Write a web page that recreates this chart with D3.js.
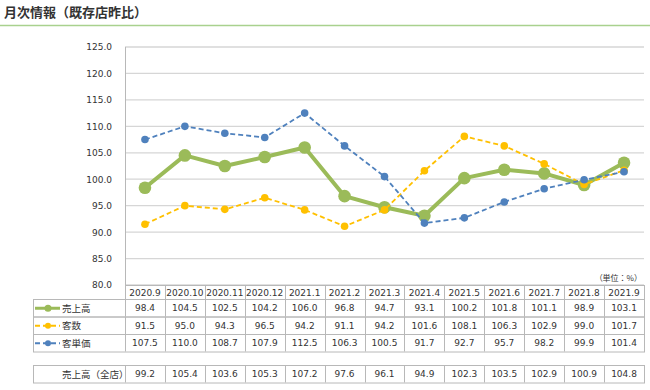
<!DOCTYPE html>
<html>
<head>
<meta charset="utf-8">
<script src="https://cdn.jsdelivr.net/npm/d3@7"></script>
<style>
  body { margin: 0; background: #fff; }
  svg text { font-family: "Noto Sans CJK JP", "DejaVu Sans", sans-serif; fill: #333; }
</style>
</head>
<body>
<svg id="chart" width="650" height="390"></svg>
<script>
const months = ["2020.9","2020.10","2020.11","2020.12","2021.1","2021.2","2021.3","2021.4","2021.5","2021.6","2021.7","2021.8","2021.9"]
const sales = [98.4,104.5,102.5,104.2,106.0,96.8,94.7,93.1,100.2,101.8,101.1,98.9,103.1]
const customers = [91.5,95.0,94.3,96.5,94.2,91.1,94.2,101.6,108.1,106.3,102.9,99.0,101.7]
const unitPrice = [107.5,110.0,108.7,107.9,112.5,106.3,100.5,91.7,92.7,95.7,98.2,99.9,101.4]
const salesAll = [99.2,105.4,103.6,105.3,107.2,97.6,96.1,94.9,102.3,103.5,102.9,100.9,104.8]
const yTicks = [80,85,90,95,100,105,110,115,120,125]

const series = [
    { name: "売上高", values: sales, color: "#9bbb59", width: 4, r: 6.3, dash: null },
    { name: "客数", values: customers, color: "#ffc000", width: 1.8, r: 3.8, dash: "5,3" },
    { name: "客単価", values: unitPrice, color: "#4f81bd", width: 1.8, r: 3.8, dash: "5,3" }
]

let svg = d3.select("#chart")
let plotLeft = 125, plotRight = 644, plotTop = 47, plotBottom = 285
let gridColor = "#d6d6d6", cellColor = "#b8b8b8"

// title
svg.append("text")
    .attr("x", 4).attr("y", 17)
    .attr("font-size", 13).attr("font-weight", "bold")
    .text("月次情報（既存店昨比）")
svg.append("line")
    .attr("x1", 0).attr("x2", 650).attr("y1", 25.5).attr("y2", 25.5)
    .attr("stroke", "#a9d18e").attr("stroke-width", 1.5)

let x = d3.scaleBand().domain(months).range([plotLeft, plotRight])
let y = d3.scaleLinear().domain([80, 125]).range([plotBottom, plotTop])

// grid
svg.append("g")
    .selectAll("line")
    .data(yTicks)
    .join("line")
    .attr("x1", plotLeft).attr("x2", plotRight)
    .attr("y1", d => y(d)).attr("y2", d => y(d))
    .attr("stroke", gridColor).attr("stroke-width", 1.3)
svg.append("line")
    .attr("x1", plotLeft + 0.5).attr("x2", plotLeft + 0.5).attr("y1", plotTop).attr("y2", plotBottom)
    .attr("stroke", cellColor)

let yAxis = svg.append("g")
    .attr("transform", `translate(${plotLeft - 10},0)`)
    .call(d3.axisLeft(y).tickValues(yTicks).tickFormat(d3.format(".1f")).tickSize(0))
yAxis.select(".domain").remove()
yAxis.selectAll("text").attr("font-size", 9).attr("fill", "#333")
    .style("font-family", "'DejaVu Sans', sans-serif")

// lines (drawn in series order, later ones on top)
let line = d3.line()
    .x((d, i) => x(months[i]) + x.bandwidth() / 2)
    .y(d => y(d))

for (const s of series) {
    let g = svg.append("g")
    g.append("path")
        .datum(s.values)
        .attr("d", line)
        .attr("fill", "none")
        .attr("stroke", s.color)
        .attr("stroke-width", s.width)
        .attr("stroke-dasharray", s.dash)
        .attr("stroke-linejoin", "round")
    g.selectAll("circle")
        .data(s.values)
        .join("circle")
        .attr("cx", (d, i) => x(months[i]) + x.bandwidth() / 2)
        .attr("cy", d => y(d))
        .attr("r", s.r)
        .attr("fill", s.color)
}

// table
let rowH = 17.5
let headTop = plotBottom, headH = 14
let table = svg.append("g")
let numFont = "'DejaVu Sans', sans-serif"

function cellRow(y0, h, texts, withLabel) {
    let x0 = withLabel ? 33 : plotLeft
    table.append("rect")
        .attr("x", x0 + 0.5).attr("y", y0 + 0.5)
        .attr("width", plotRight - x0).attr("height", h)
        .attr("fill", "none").attr("stroke", cellColor)
    table.selectAll(null)
        .data(months)
        .join("line")
        .attr("x1", d => Math.round(x(d)) + 0.5).attr("x2", d => Math.round(x(d)) + 0.5)
        .attr("y1", y0).attr("y2", y0 + h)
        .attr("stroke", cellColor)
    table.selectAll(null)
        .data(texts)
        .join("text")
        .attr("x", (d, i) => x(months[i]) + x.bandwidth() / 2)
        .attr("y", y0 + h / 2 + 3.5)
        .attr("text-anchor", "middle")
        .attr("font-size", 9)
        .style("font-family", numFont)
        .text(d => d)
}

cellRow(headTop, headH, months, false)
series.forEach((s, k) => {
    let y0 = headTop + headH + k * rowH
    cellRow(y0, rowH, s.values.map(d3.format(".1f")), true)
    let cy = y0 + rowH / 2 + 0.5
    table.append("line")
        .attr("x1", 35).attr("x2", 60).attr("y1", cy).attr("y2", cy)
        .attr("stroke", s.color).attr("stroke-width", s.width === 4 ? 3 : 1.8)
        .attr("stroke-dasharray", s.dash)
    table.append("circle")
        .attr("cx", 48).attr("cy", cy).attr("r", s.width === 4 ? 3.5 : 3)
        .attr("fill", s.color)
    table.append("text")
        .attr("x", 62).attr("y", cy + 3.5)
        .attr("font-size", 9.5)
        .text(s.name)
})

let allTop = 365
cellRow(allTop, rowH, salesAll.map(d3.format(".1f")), true)
table.append("text")
    .attr("x", 62).attr("y", allTop + rowH / 2 + 4)
    .attr("font-size", 9.5)
    .text("売上高（全店）")

svg.append("text")
    .attr("x", 642).attr("y", 281)
    .attr("text-anchor", "end")
    .attr("font-size", 8)
    .text("（単位：%）")
</script>
</body>
</html>
